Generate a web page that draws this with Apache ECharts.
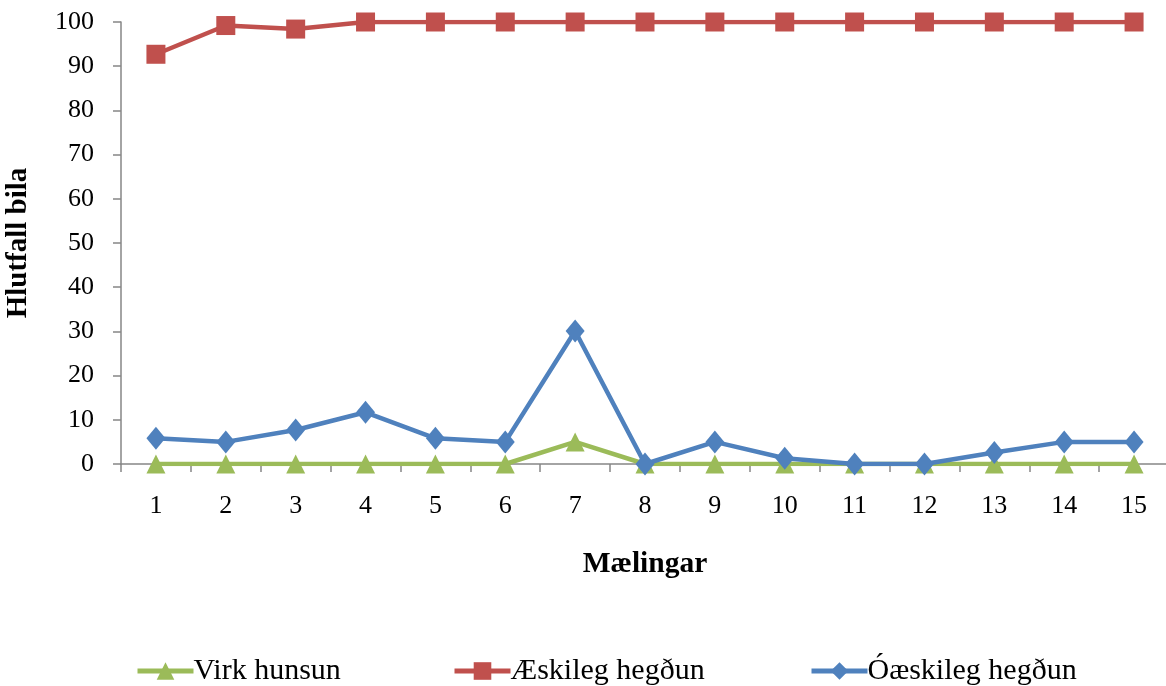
<!DOCTYPE html>
<html><head><meta charset="utf-8">
<script src="https://cdn.jsdelivr.net/npm/echarts@6/dist/echarts.min.js"></script>
<style>html,body{margin:0;padding:0;background:#fff}#c{width:1166px;height:686px}</style>
</head><body><div id="c"></div>
<script>
const categories = ['1','2','3','4','5','6','7','8','9','10','11','12','13','14','15'];
const virkHunsun = [0,0,0,0,0,0,5,0,0,0,0,0,0,0,0];
const aeskileg = [92.7,99.2,98.4,100,100,100,100,100,100,100,100,100,100,100,100];
const oaeskileg = [5.8,5.0,7.7,11.7,5.8,5.0,30.1,0,5.0,1.3,0,0,2.6,5.0,5.0];
const yTicks = {min:0,max:100,interval:10};
const seriesNames = ['Virk hunsun','Æskileg hegðun','Óæskileg hegðun'];

const font = 'Liberation Serif';
const chart = echarts.init(document.getElementById('c'), null, {renderer:'canvas'});
const legendLefts = [135, 452, 809];
chart.setOption({
  animation:false,
  textStyle:{fontFamily:font},
  grid:{left:121,top:22,width:1048,height:442,containLabel:false,outerBoundsMode:'none'},
  legend: seriesNames.map((n,i)=>({
    data:[n],
    left:legendLefts[i], top:656, padding:0, itemWidth:56, itemHeight:22,
    lineStyle:{width:5},
    textStyle:{fontFamily:font,fontSize:30,color:'#000',padding:[0,0,0,-5]}
  })),
  xAxis:{
    type:'category',data:categories,boundaryGap:true,
    name:'Mælingar',nameLocation:'middle',nameGap:85,
    nameTextStyle:{fontFamily:font,fontSize:29.5,fontWeight:'bold',color:'#000'},
    axisLine:{lineStyle:{color:'#868686',width:1.5}},
    axisTick:{show:true,length:8,lineStyle:{color:'#868686',width:1.5}},
    axisLabel:{fontFamily:font,fontSize:26,color:'#000',margin:29},
    splitLine:{show:false}
  },
  yAxis:{
    type:'value',min:yTicks.min,max:yTicks.max,interval:yTicks.interval,
    name:'Hlutfall bila',nameLocation:'middle',nameGap:88,nameRotate:90,
    nameTextStyle:{fontFamily:font,fontSize:29,fontWeight:'bold',color:'#000'},
    axisLine:{show:true,lineStyle:{color:'#868686',width:1.5}},
    axisTick:{show:true,length:8,lineStyle:{color:'#868686',width:1.5}},
    axisLabel:{fontFamily:font,fontSize:26,color:'#000',margin:27},
    splitLine:{show:false}
  },
  series:[
    {name:seriesNames[0],type:'line',data:virkHunsun,symbol:'triangle',symbolSize:19,
     lineStyle:{color:'#9BBB59',width:4.5},itemStyle:{color:'#9BBB59'},z:2},
    {name:seriesNames[1],type:'line',data:aeskileg,symbol:'rect',symbolSize:19,
     lineStyle:{color:'#C0504D',width:4.5},itemStyle:{color:'#C0504D'},z:3},
    {name:seriesNames[2],type:'line',data:oaeskileg,symbol:'diamond',symbolSize:[19,23],
     lineStyle:{color:'#4F81BD',width:4.5},itemStyle:{color:'#4F81BD'},z:4}
  ]
});
</script></body></html>
